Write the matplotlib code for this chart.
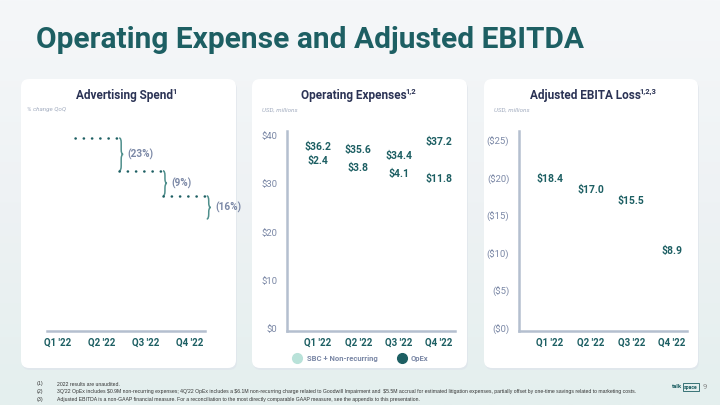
import matplotlib.pyplot as plt
import numpy as np
from matplotlib.patches import FancyBboxPatch, PathPatch
from matplotlib.path import Path
from matplotlib.lines import Line2D

plt.rcParams['font.family'] = ['Roboto', 'DejaVu Sans']

# Data
QUARTERS = ["Q1 '22", "Q2 '22", "Q3 '22", "Q4 '22"]
AD_INDEX = [100, 83, 70, 58]          # relative ad spend (bar heights, Q1 = 100)
AD_QOQ = ["(23%)", "(9%)", "(16%)"]
OPEX_TOTAL = [36.2, 35.6, 34.4, 37.2]
OPEX_SBC = [2.4, 3.8, 4.1, 11.8]
EBITDA_LOSS = [18.4, 17.0, 15.5, 8.9]
OPEX_TICKS = [0, 10, 20, 30, 40]
EBITDA_TICKS = [0, 5, 10, 15, 20, 25]
FOOTNOTES = [
    "2022 results are unaudited.",
    "3Q'22 OpEx includes $0.9M non-recurring expenses; 4Q'22 OpEx includes a $6.1M non-recurring charge "
    "related to Goodwill Impairment and  $5.5M accrual for estimated litigation expenses, partially offset "
    "by one-time savings related to marketing costs.",
    "Adjusted EBITDA is a non-GAAP financial measure. For a reconciliation to the most directly comparable "
    "GAAP measure, see the appendix to this presentation.",
]

TEAL = "#1d5f63"
NAVY = "#2b3355"
GREY = "#7b88a6"
AXIS = "#b4bfcf"
LIGHT_TEAL = "#b9e2d9"
W, H = 720, 405


def px(x, y, w=0, h=0):
    """pixel box (top-left origin) -> figure fraction rect"""
    return [x / W, 1 - (y + h) / H, w / W, h / H]


def style_axes(ax, xlim, ylim, yaxis=True):
    ax.set_facecolor("none")
    ax.set_xlim(*xlim)
    ax.set_ylim(*ylim)
    for s in ["top", "right"]:
        ax.spines[s].set_visible(False)
    ax.spines["bottom"].set_color(AXIS)
    ax.spines["bottom"].set_linewidth(1.8)
    ax.spines["left"].set_color(AXIS)
    ax.spines["left"].set_linewidth(1.8)
    ax.spines["left"].set_visible(yaxis)
    ax.set_xticks(range(len(QUARTERS)))
    ax.set_xticklabels(QUARTERS, fontsize=7, fontweight="bold", color=TEAL)
    ax.tick_params(axis="x", length=0, pad=5)
    ax.tick_params(axis="y", length=0, pad=7, labelsize=6.8, labelcolor=GREY)
    if not yaxis:
        ax.set_yticks([])


def brace(ax, x, y_top, y_bot, w=0.045, r=2.5, color="#4f8f8c"):
    ym = (y_top + y_bot) / 2
    verts = [(x, y_top), (x + w, y_top), (x + w, y_top - r),
             (x + w, ym + r), (x + w, ym), (x + 2 * w, ym),
             (x + w, ym), (x + w, ym - r),
             (x + w, y_bot + r), (x + w, y_bot), (x, y_bot)]
    codes = [Path.MOVETO, Path.CURVE3, Path.CURVE3,
             Path.LINETO, Path.CURVE3, Path.CURVE3,
             Path.CURVE3, Path.CURVE3,
             Path.LINETO, Path.CURVE3, Path.CURVE3]
    ax.add_patch(PathPatch(Path(verts, codes), fill=False, edgecolor=color,
                           lw=1.1, clip_on=False))


def card_title(ax, x, y, title, sup):
    t = ax.text(x, y, title, fontsize=8.5, fontweight="bold", color=NAVY,
                ha="center", va="center", zorder=3)
    ax.annotate(sup, xy=(1, 1), xycoords=t, xytext=(-0.8, 0.8), textcoords="offset points",
                fontsize=5.5, fontweight="bold", color=NAVY, ha="left", va="top", zorder=3)


fig = plt.figure(figsize=(7.2, 4.05), dpi=100)

# background + cards (pixel coordinates)
bg = fig.add_axes([0, 0, 1, 1])
bg.set_xlim(0, W)
bg.set_ylim(H, 0)
bg.axis("off")
grad = np.linspace(0, 1, 256).reshape(-1, 1)
bg.imshow(grad, extent=[0, W, H, 0], aspect="auto", zorder=0,
          cmap=plt.matplotlib.colors.LinearSegmentedColormap.from_list(
              "bgc", ["#f5f7f9", "#eef2f4", "#e4efee"]))
for left, right in [(21, 236), (252, 467), (484, 698)]:
    bg.add_patch(FancyBboxPatch((left + 1, 81), right - left, 289,
                                boxstyle="round,pad=0,rounding_size=8",
                                facecolor="#dde3ea", edgecolor="none", alpha=0.6, zorder=1))
    bg.add_patch(FancyBboxPatch((left, 79), right - left, 289,
                                boxstyle="round,pad=0,rounding_size=8",
                                facecolor="white", edgecolor="none", zorder=2))

bg.text(36, 40, "Operating Expense and Adjusted EBITDA", fontsize=21.5, fontweight="bold",
        color=TEAL, va="center", ha="left", zorder=3)

card_title(bg, 125, 96, "Advertising Spend", "1")
card_title(bg, 354, 96, "Operating Expenses", "1,2")
card_title(bg, 585, 96, "Adjusted EBITA Loss", "1,2,3")
bg.text(27, 110, "% change QoQ", fontsize=4.5, style="italic", color="#a3adc0", va="center", zorder=3)
bg.text(262, 110, "USD, millions", fontsize=4.5, style="italic", color="#a3adc0", va="center", zorder=3)
bg.text(494, 110, "USD, millions", fontsize=4.5, style="italic", color="#a3adc0", va="center", zorder=3)

# footnotes
for i, note in enumerate(FOOTNOTES):
    y = 384 + i * 7.5
    bg.text(37, y, f"({i + 1})", fontsize=3.8, family="Liberation Sans", color="#333333",
            va="center", zorder=3)
    bg.text(57, y, note, fontsize=3.7, family="Liberation Sans", color="#333333",
            va="center", zorder=3)
bg.text(672, 387, "talk", fontsize=4.3, fontweight="bold", color=TEAL, va="center", zorder=3)
bg.text(684, 387, "space", fontsize=3.7, fontweight="bold", color=TEAL, va="center", zorder=3,
        bbox=dict(boxstyle="square,pad=0.2", facecolor="none", edgecolor=TEAL, lw=0.6))
bg.text(703, 387, "9", fontsize=5.5, color="#888888", va="center", zorder=3)

# --- Advertising spend ---
ax1 = fig.add_axes(px(47, 131, 158, 200))
x = np.arange(len(QUARTERS))
ax1.bar(x, AD_INDEX, width=0.8, color="white", zorder=1)
style_axes(ax1, (-0.25, 3.36), (0, 103.6), yaxis=False)
hw = 0.4
for i, lab in enumerate(AD_QOQ):
    ax1.hlines(AD_INDEX[i], i + hw, i + 1 + hw, colors=TEAL, linestyles=(0, (0.1, 3.2)),
               lw=1.8, capstyle="round", clip_on=False)
    brace(ax1, i + 1 + hw, AD_INDEX[i], AD_INDEX[i + 1])
    ax1.annotate(lab, (i + 1 + hw, (AD_INDEX[i] + AD_INDEX[i + 1]) / 2),
                 xytext=(6, 0), textcoords="offset points", fontsize=7.2, fontweight="bold",
                 color=GREY, va="center", ha="left", annotation_clip=False)

# --- Operating expenses ---
ax2 = fig.add_axes(px(287, 131, 168, 200))
opex_core = [t - s for t, s in zip(OPEX_TOTAL, OPEX_SBC)]
ax2.bar(x, opex_core, width=0.7, color="white", zorder=1)
ax2.bar(x, OPEX_SBC, bottom=opex_core, width=0.7, color="white", zorder=1)
style_axes(ax2, (-0.77, 3.4), (-0.4, 41))
ax2.set_yticks(OPEX_TICKS)
ax2.set_yticklabels([f"${t}" for t in OPEX_TICKS])
for i in x:
    ax2.annotate(f"${OPEX_TOTAL[i]:.1f}", (i, OPEX_TOTAL[i]), xytext=(0, 5),
                 textcoords="offset points", ha="center", va="center", fontsize=7.5,
                 fontweight="bold", color=TEAL)
    ax2.annotate(f"${OPEX_SBC[i]:.1f}", (i, opex_core[i] + OPEX_SBC[i] / 2), xytext=(0, -1),
                 textcoords="offset points", ha="center", va="center", fontsize=7.5,
                 fontweight="bold", color=TEAL)
handles = [Line2D([], [], marker="o", ls="none", ms=7, color=LIGHT_TEAL),
           Line2D([], [], marker="o", ls="none", ms=7, color=TEAL)]
leg = ax2.legend(handles, ["SBC + Non-recurring", "OpEx"], ncol=2, loc="center",
                 bbox_to_anchor=(0.43, -0.135), frameon=False, fontsize=5.5,
                 handletextpad=0.2, columnspacing=2.2)
for t in leg.get_texts():
    t.set_color(GREY)
    t.set_fontweight("bold")

# --- Adjusted EBITDA loss ---
ax3 = fig.add_axes(px(519, 131, 168, 200))
ax3.bar(x, EBITDA_LOSS, width=0.7, color="white", zorder=1)
style_axes(ax3, (-0.76, 3.37), (-0.27, 26.3))
ax3.set_yticks(EBITDA_TICKS)
ax3.set_yticklabels([f"(${t})" for t in EBITDA_TICKS])
for i in x:
    ax3.annotate(f"${EBITDA_LOSS[i]:.1f}", (i, EBITDA_LOSS[i]), xytext=(0, 8),
                 textcoords="offset points", ha="center", va="center", fontsize=7.5,
                 fontweight="bold", color=TEAL)

fig.savefig("out.png", dpi=100)
